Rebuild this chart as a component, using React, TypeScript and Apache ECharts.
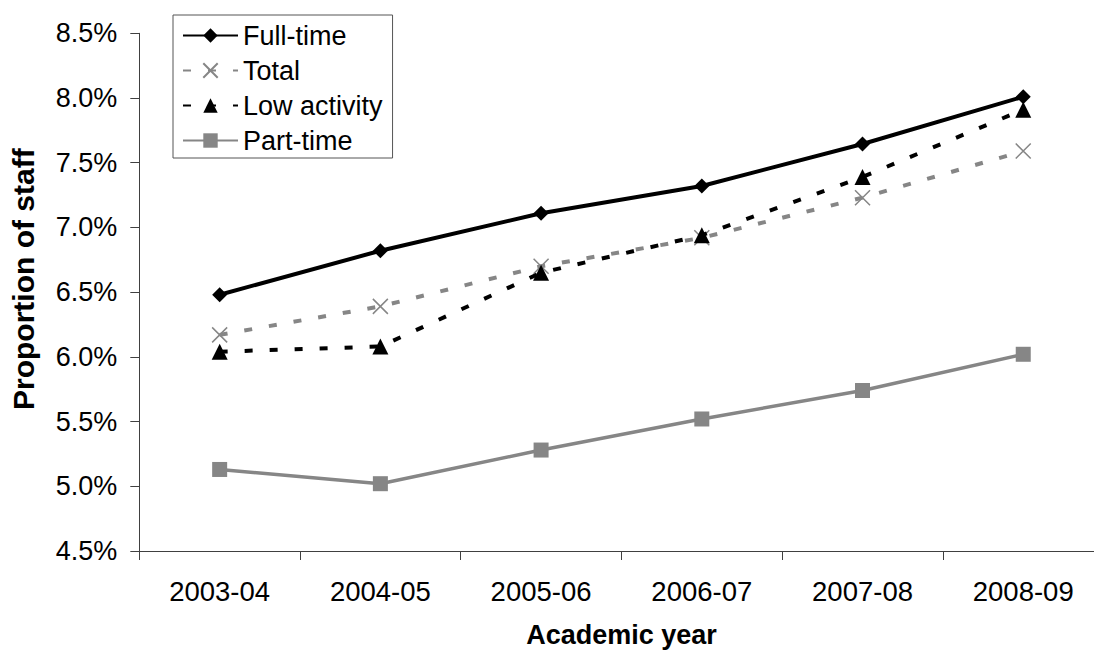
import React, { useEffect, useRef } from "react";
import * as echarts from "echarts";

// Academic years on the category axis
const years = ["2003-04", "2004-05", "2005-06", "2006-07", "2007-08", "2008-09"];

// Proportion of staff (%) per group
const fullTime = [6.48, 6.82, 7.11, 7.32, 7.645, 8.01];
const total = [6.17, 6.39, 6.7, 6.92, 7.23, 7.59];
const lowActivity = [6.04, 6.08, 6.65, 6.94, 7.39, 7.91];
const partTime = [5.13, 5.02, 5.28, 5.52, 5.74, 6.02];

// Value axis range
const yMin = 4.5;
const yMax = 8.5;
const yStep = 0.5;

const GREY = "#868686";
const FONT = "Liberation Sans, Arial, Helvetica, sans-serif";
const CROSS = "path://M0,0L10,10M10,0L0,10";

export default function App() {
  const ref = useRef<HTMLDivElement>(null);

  useEffect(() => {
    if (!ref.current) return;
    const chart = echarts.init(ref.current, undefined, { renderer: "svg" });
    chart.setOption({
      animation: false,
      backgroundColor: "#ffffff",
      textStyle: { fontFamily: FONT, color: "#000" },
      grid: {
        left: 139.3,
        top: 33.3,
        right: -9.6,
        bottom: 99,
        containLabel: false,
        outerBoundsMode: "none",
      },
      legend: {
        orient: "vertical",
        left: 173,
        top: 15,
        padding: [7, 10, 4, 9],
        itemGap: 8,
        itemWidth: 55,
        itemHeight: 18,
        borderColor: "#555",
        borderWidth: 1,
        backgroundColor: "#fff",
        textStyle: { fontFamily: FONT, fontSize: 27, color: "#000", lineHeight: 27 },
        data: ["Full-time", "Total", "Low activity", "Part-time"],
      },
      xAxis: {
        type: "category",
        data: years,
        boundaryGap: true,
        name: "Academic year",
        nameLocation: "middle",
        nameGap: 70,
        nameTextStyle: { fontFamily: FONT, fontSize: 27, fontWeight: "bold", color: "#000" },
        axisLine: { lineStyle: { color: "#404040", width: 1 } },
        axisTick: { show: true, length: 9, alignWithLabel: false, lineStyle: { color: "#404040" } },
        axisLabel: { fontFamily: FONT, fontSize: 27.5, color: "#000", margin: 26 },
        splitLine: { show: false },
      },
      yAxis: {
        type: "value",
        min: yMin,
        max: yMax,
        interval: yStep,
        name: "Proportion of staff",
        nameLocation: "middle",
        nameGap: 101,
        nameRotate: 90,
        nameTextStyle: {
          fontFamily: FONT,
          fontSize: 30,
          fontWeight: "bold",
          color: "#000",
          padding: [0, 0, 0, 26],
        },
        axisLine: { show: true, lineStyle: { color: "#404040", width: 1 } },
        axisTick: { show: true, length: 9, lineStyle: { color: "#404040" } },
        axisLabel: {
          fontFamily: FONT,
          fontSize: 27,
          color: "#000",
          margin: 22,
          formatter: (v: number) => v.toFixed(1) + "%",
        },
        splitLine: { show: false },
      },
      series: [
        {
          name: "Full-time",
          type: "line",
          data: fullTime,
          symbol: "diamond",
          symbolSize: 15,
          lineStyle: { color: "#000", width: 4 },
          itemStyle: { color: "#000" },
          z: 5,
        },
        {
          name: "Total",
          type: "line",
          data: total,
          symbol: CROSS,
          symbolSize: 15,
          lineStyle: { color: GREY, width: 4, type: [8, 17] },
          itemStyle: { color: "rgba(0,0,0,0)", borderColor: GREY, borderWidth: 1.5 },
          z: 3,
        },
        {
          name: "Low activity",
          type: "line",
          data: lowActivity,
          symbol: "triangle",
          symbolSize: 16,
          lineStyle: { color: "#000", width: 4, type: [8, 17] },
          itemStyle: { color: "#000" },
          z: 4,
        },
        {
          name: "Part-time",
          type: "line",
          data: partTime,
          symbol: "rect",
          symbolSize: 15,
          lineStyle: { color: GREY, width: 3.5 },
          itemStyle: { color: GREY },
          z: 2,
        },
      ],
    });
    return () => chart.dispose();
  }, []);

  return (
    <div
      ref={ref}
      style={{ position: "absolute", left: 0, top: 0, width: 1094, height: 650, overflow: "hidden" }}
    />
  );
}
